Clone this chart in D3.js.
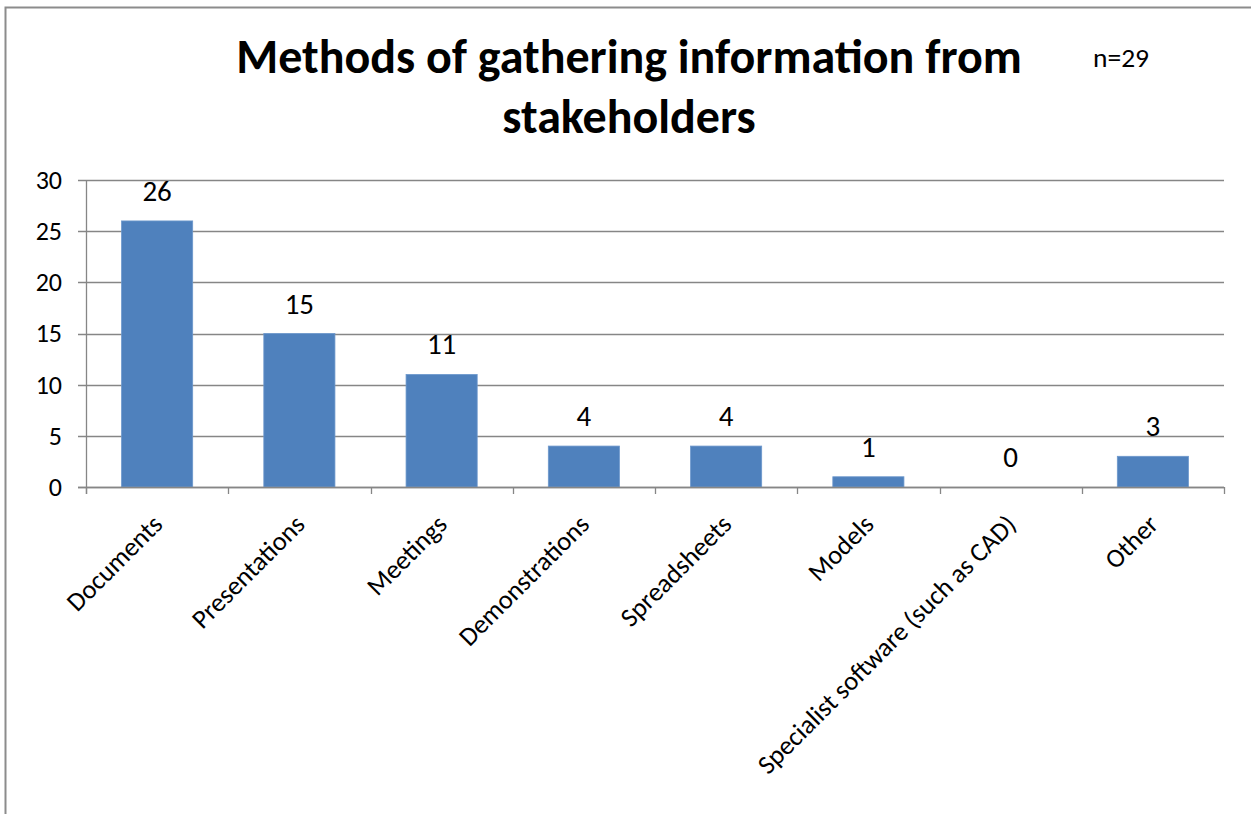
<!DOCTYPE html>
<html>
<head>
<meta charset="utf-8">
<script src="https://cdn.jsdelivr.net/npm/d3@7/dist/d3.min.js"></script>
<style>
  html, body { margin: 0; padding: 0; background: #fff; }
  svg { display: block; }
  text { font-family: Carlito, Calibri, Lato, "DejaVu Sans", sans-serif; fill: #000; }
</style>
</head>
<body>
<svg id="chart" width="1251" height="814"></svg>
<script>
// Survey responses: methods of gathering information from stakeholders
const categories = [
  "Documents",
  "Presentations",
  "Meetings",
  "Demonstrations",
  "Spreadsheets",
  "Models",
  "Specialist software (such as CAD)",
  "Other"
];
const counts = [26, 15, 11, 4, 4, 1, 0, 3];
const yTicks = [0, 5, 10, 15, 20, 25, 30];
const titleLines = ["Methods of gathering information from", "stakeholders"];
const sampleNote = "n=29";

const svg = d3.select("#chart");

// outer chart frame (right and bottom edges fall outside the view)
svg.append("rect")
  .attr("x", 5.5).attr("y", 7.5)
  .attr("width", 1400).attr("height", 1000)
  .attr("fill", "#fff")
  .attr("stroke", "#8c8c8c")
  .attr("stroke-width", 2);

const plot = { left: 86, right: 1224, top: 180, bottom: 487 };

const x = d3.scaleBand()
  .domain(categories)
  .range([plot.left, plot.right])
  .paddingInner(0.5)
  .paddingOuter(0.25);

const y = d3.scaleLinear()
  .domain([0, 30])
  .range([plot.bottom, plot.top]);

const gridColor = "#868686";

// horizontal gridlines with left tick marks
svg.append("g")
  .selectAll("line")
  .data(yTicks)
  .join("line")
  .attr("x1", plot.left - 8)
  .attr("x2", plot.right)
  .attr("y1", d => Math.round(y(d)) + 0.5)
  .attr("y2", d => Math.round(y(d)) + 0.5)
  .attr("stroke", gridColor)
  .attr("stroke-width", 1.3);

// y axis line
svg.append("line")
  .attr("x1", plot.left + 0.5).attr("x2", plot.left + 0.5)
  .attr("y1", plot.top).attr("y2", plot.bottom + 7)
  .attr("stroke", gridColor).attr("stroke-width", 1.3);

// y tick labels
svg.append("g")
  .selectAll("text")
  .data(yTicks)
  .join("text")
  .attr("x", plot.left - 24)
  .attr("y", d => y(d))
  .attr("dy", "0.34em")
  .attr("text-anchor", "end")
  .attr("font-size", 26)
  .text(d => d);

// x axis tick marks at band boundaries
const step = x.step();
const boundaries = d3.range(categories.length + 1).map(i => plot.left + i * step);
svg.append("g")
  .selectAll("line")
  .data(boundaries)
  .join("line")
  .attr("x1", d => Math.round(d) + 0.5)
  .attr("x2", d => Math.round(d) + 0.5)
  .attr("y1", plot.bottom)
  .attr("y2", plot.bottom + 7)
  .attr("stroke", gridColor)
  .attr("stroke-width", 1.3);

// bars
svg.append("g")
  .selectAll("rect")
  .data(categories)
  .join("rect")
  .attr("x", d => x(d))
  .attr("width", x.bandwidth())
  .attr("y", (d, i) => y(counts[i]))
  .attr("height", (d, i) => y(0) - y(counts[i]))
  .attr("fill", "#4f81bd")
  .attr("stroke", "#6d98cc")
  .attr("stroke-width", 0.8);

// x axis baseline drawn over the bars
svg.append("line")
  .attr("x1", plot.left - 8).attr("x2", plot.right)
  .attr("y1", plot.bottom + 0.5).attr("y2", plot.bottom + 0.5)
  .attr("stroke", gridColor).attr("stroke-width", 1.3);

// value labels
svg.append("g")
  .selectAll("text")
  .data(categories)
  .join("text")
  .attr("x", d => x(d) + x.bandwidth() / 2)
  .attr("y", (d, i) => y(counts[i]) - 20)
  .attr("text-anchor", "middle")
  .attr("font-size", 29)
  .text((d, i) => counts[i]);

// rotated category labels
svg.append("g")
  .selectAll("text")
  .data(categories)
  .join("text")
  .attr("text-anchor", "end")
  .attr("font-size", 26.5)
  .attr("transform", d => {
    const cx = x(d) + x.bandwidth() / 2 + 7;
    return `translate(${cx},526) rotate(-45)`;
  })
  .text(d => d);

// title
svg.append("g")
  .selectAll("text")
  .data(titleLines)
  .join("text")
  .attr("x", 629)
  .attr("y", (d, i) => 73 + i * 60)
  .attr("text-anchor", "middle")
  .attr("font-size", 48)
  .attr("font-weight", "bold")
  .text(d => d);

svg.append("text")
  .attr("x", 1093)
  .attr("y", 67)
  .attr("font-size", 27.5)
  .text(sampleNote);
</script>
</body>
</html>
